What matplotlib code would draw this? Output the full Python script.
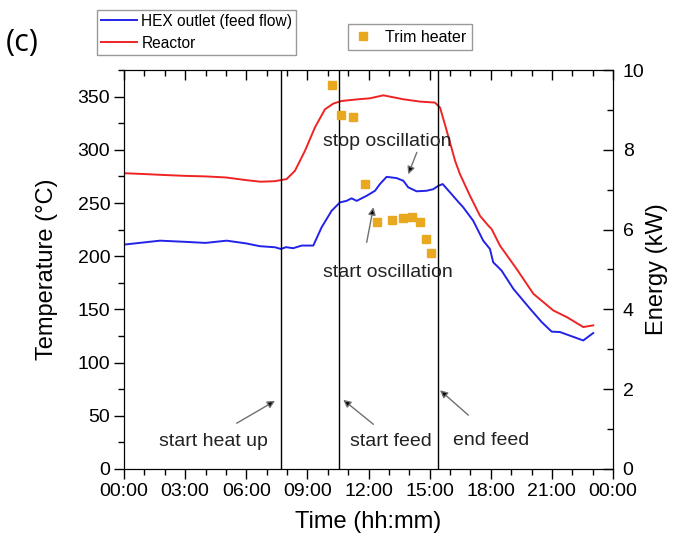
import matplotlib
matplotlib.use('Agg')
import matplotlib.pyplot as plt
from matplotlib.ticker import MultipleLocator, FixedLocator

plt.rcParams['font.family'] = ['Liberation Sans', 'DejaVu Sans']

# time in hours since 00:00
t_reactor = [0, 1, 2, 3, 4, 5, 6, 6.7, 7.4, 7.98, 8.39, 8.88, 9.37, 9.86, 10.27, 10.68,
             11.5, 12.07, 12.73, 13.71, 14.53, 15.26, 15.51, 15.84, 16.25, 16.49, 16.98,
             17.47, 17.88, 18.04, 18.45, 19.27, 20.09, 21.07, 21.73, 22.54, 23.03]
T_reactor = [278, 277.2, 276.3, 275.5, 275, 274, 271.5, 270, 270.5, 272.5, 280.3, 299, 321,
             338, 343.4, 345.9, 347.5, 348.4, 351.2, 347.5, 345.3, 344.4, 339.7, 317.8,
             289.6, 277, 256.8, 238, 228.7, 225.6, 210, 188, 164.7, 149, 142.8, 133.4, 135]

t_hex = [0, 1, 1.77, 3, 4, 5.04, 6, 6.67, 7.41, 7.7, 7.95, 8.3, 8.72, 9.29, 9.7, 10.19,
         10.6, 10.92, 11.17, 11.42, 11.91, 12.32, 12.56, 12.89, 13.38, 13.71, 13.95, 14.36,
         14.85, 15.18, 15.43, 15.64, 16.0, 16.41, 16.65, 17.14, 17.63, 17.96, 18.12, 18.53,
         19.11, 19.93, 20.5, 20.99, 21.4, 22.54, 23.03]
T_hex = [210.9, 213, 214.6, 213.5, 212.5, 214.6, 212, 209.4, 208.4, 206.8, 208.5, 207.5,
         210, 210, 227.2, 242.7, 250.6, 252, 254.4, 252, 256.8, 261.5, 267.8, 274.6, 273.4,
         270.9, 264.7, 261, 261.5, 263, 266.2, 267.8, 260, 251, 245.9, 233.3, 214.6, 206.8,
         194.3, 186.5, 169.3, 150.6, 138.1, 129.1, 128.7, 120.8, 127.8]

t_trim = [10.22, 10.65, 11.25, 11.85, 12.4, 13.14, 13.68, 14.12, 14.53, 14.82, 15.07]
E_trim = [9.62, 8.88, 8.81, 7.15, 6.18, 6.24, 6.29, 6.31, 6.18, 5.76, 5.41]

events = [7.72, 10.55, 15.4]

xticks = [0, 3, 6, 9, 12, 15, 18, 21, 24]
xticklabels = ['00:00', '03:00', '06:00', '09:00', '12:00', '15:00', '18:00', '21:00', '00:00']

fig = plt.figure(figsize=(6.74, 5.41), dpi=100)
ax = fig.add_axes([0.184, 0.1331, 0.7255, 0.7375])
ax2 = ax.twinx()

l1, = ax.plot(t_hex, T_hex, color='#2222e8', lw=1.4, label='HEX outlet (feed flow)')
l2, = ax.plot(t_reactor, T_reactor, color='#ee2424', lw=1.4, label='Reactor')
for x in events:
    ax.axvline(x, color='black', lw=1.0)
sq, = ax2.plot(t_trim, E_trim, 's', color='#e8a820', ms=6, label='Trim heater')

ax.set_xlim(0, 24)
ax.set_ylim(0, 375)
ax2.set_ylim(0, 10)
ax.set_xticks(xticks)
ax.set_xticklabels(xticklabels)
ax.xaxis.set_minor_locator(MultipleLocator(1))
ax.yaxis.set_major_locator(FixedLocator([0, 50, 100, 150, 200, 250, 300, 350]))
ax.yaxis.set_minor_locator(MultipleLocator(25))
ax2.yaxis.set_major_locator(MultipleLocator(2))
ax2.yaxis.set_minor_locator(MultipleLocator(1))

ax.tick_params(axis='both', which='major', labelsize=14, length=7, width=1, pad=3)
ax.tick_params(axis='both', which='minor', length=4, width=1)
ax.tick_params(axis='x', which='both', top=True, direction='out')
ax.tick_params(axis='y', which='both', direction='out')
ax2.tick_params(axis='y', which='major', labelsize=14, length=7, width=1, direction='in', pad=7)
ax2.tick_params(axis='y', which='minor', length=4, width=1, direction='in')
# top ticks point inward
for tl in ax.xaxis.get_major_ticks() + ax.xaxis.get_minor_ticks():
    tl.tick2line.set_marker(3)

ax.set_xlabel('Time (hh:mm)', fontsize=17, labelpad=8)
ax.set_ylabel('Temperature (°C)', fontsize=17, labelpad=14)
ax2.set_ylabel('Energy (kW)', fontsize=17, labelpad=1)

arrow = dict(arrowstyle='-|>', fc='black', ec='#707070', lw=1, mutation_scale=11,
             shrinkA=0, shrinkB=0)
ax.text(12.93, 308, 'stop oscillation', fontsize=14, ha='center', va='center', color='#222222')
ax.annotate('', xy=(13.95, 277), xytext=(14.37, 297.5), arrowprops=arrow)
ax.annotate('', xy=(12.24, 246), xytext=(11.91, 213), arrowprops=arrow)
ax.text(12.93, 185, 'start oscillation', fontsize=14, ha='center', va='center', color='#222222')
ax.annotate('', xy=(7.41, 64), xytext=(5.53, 43), arrowprops=arrow)
ax.text(4.38, 26.3, 'start heat up', fontsize=14, ha='center', va='center', color='#222222')
ax.annotate('', xy=(10.76, 65), xytext=(12.24, 42), arrowprops=arrow)
ax.text(13.08, 26.3, 'start feed', fontsize=14, ha='center', va='center', color='#222222')
ax.annotate('', xy=(15.51, 74), xytext=(16.9, 50.6), arrowprops=arrow)
ax.text(18.0, 27.2, 'end feed', fontsize=14, ha='center', va='center', color='#222222')

leg1 = fig.legend(handles=[l1, l2], loc='upper left', bbox_to_anchor=(0.144, 0.9815),
                  fontsize=11.2, frameon=True, fancybox=False, edgecolor='#808080',
                  borderaxespad=0, handlelength=2.3, labelspacing=0.45, borderpad=0.25,
                  handletextpad=0.3)
leg1.get_frame().set_linewidth(1)
leg2 = fig.legend(handles=[sq], loc='upper left', bbox_to_anchor=(0.516, 0.9556),
                  fontsize=11.5, frameon=True, fancybox=False, edgecolor='#808080',
                  borderaxespad=0, handlelength=1.2, borderpad=0.35, handletextpad=0.8,
                  markerscale=0.9)
leg2.get_frame().set_linewidth(1)

fig.text(0.008, 0.92, '(c)', fontsize=22, family='Open Sans', va='center', ha='left')

fig.savefig('out.png', dpi=100)
